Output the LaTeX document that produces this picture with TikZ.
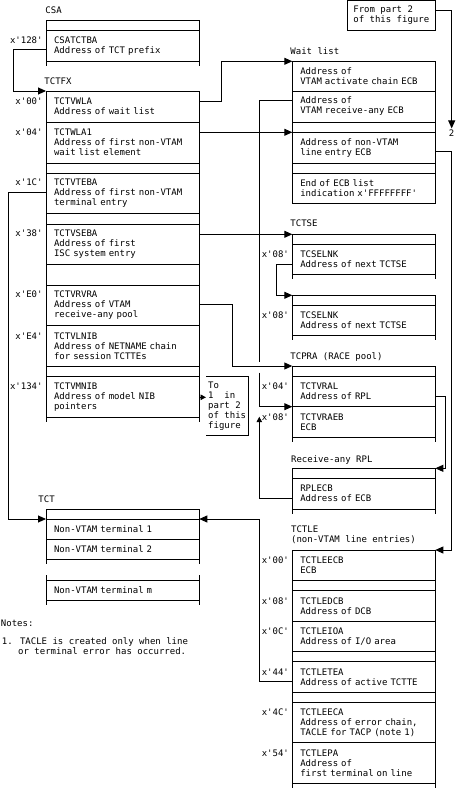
\documentclass[tikz,border=0pt]{standalone}
\usepackage{fontspec}
\newfontfamily\dg{DejaVu Sans Mono}
\usetikzlibrary{arrows.meta}

\begin{document}
\begin{tikzpicture}[x=1pt,y=-1pt,line width=0.9pt,
    every node/.style={font=\dg\fontsize{9}{10}\selectfont},
    cellL/.style={draw,anchor=north west,outer sep=0pt,inner xsep=8pt,inner ysep=0pt,text width=137.3pt,align=left},
    cellR/.style={cellL,text width=127pt},
    off/.style={anchor=base east,inner sep=0pt},
    lbl/.style={anchor=base west,inner sep=0pt},
    arr/.style={-{Triangle[length=8pt,width=7pt]}},
    smallarr/.style={-{Triangle[length=5.5pt,width=5.5pt]}}]
    \useasboundingbox (0,0) rectangle (456,789);

    % CSA
    \node[lbl] (csalbl) at (45,13.5) {CSA};
    \node[cellL,minimum height=10pt] (csa0) at (46,20.7) {};
    \node[cellL,minimum height=30.6pt] (csa1) at (46,30.7) {CSATCTBA\\Address of TCT prefix};
    \node[off] (ocsa1) at ([xshift=-3pt]csa1.base west) {x'128'};

    % TCTFX
    \node[lbl] (fxlbl) at (44,84.5) {TCTFX};
    \node[cellL,minimum height=31pt] (fx0) at (46,91) {TCTVWLA\\Address of wait list};
    \node[cellL,minimum height=41.3pt] (fx1) at (46,122) {TCTWLA1\\Address of first non-VTAM\\wait list element};
    \node[cellL,minimum height=10pt] (fx2) at (46,163.3) {};
    \node[cellL,minimum height=40pt] (fx3) at (46,173.3) {TCTVTEBA\\Address of first non-VTAM\\terminal entry};
    \node[cellL,minimum height=10.7pt] (fx4) at (46,213.3) {};
    \node[cellL,minimum height=40.3pt] (fx5) at (46,224) {TCTVSEBA\\Address of first\\ISC system entry};
    \node[cellL,minimum height=21pt] (fx6) at (46,264.3) {};
    \node[cellL,minimum height=40.4pt] (fx7) at (46,285.3) {TCTVRVRA\\Address of VTAM\\receive-any pool};
    \node[cellL,minimum height=40.3pt] (fx8) at (46,325.7) {TCTVLNIB\\Address of NETNAME chain\\for session TCTTEs};
    \node[cellL,minimum height=10.7pt] (fx9) at (46,366) {};
    \node[cellL,minimum height=40.6pt] (fx10) at (46,376.7) {TCTVMNIB\\Address of model NIB\\pointers};
    \foreach \n/\t in {fx0/00,fx1/04,fx3/1C,fx5/38,fx7/E0,fx8/E4,fx10/134}
        \node[off] (o\n) at ([xshift=-3pt]\n.base west) {x'\t'};

    \node[anchor=north west,outer sep=0pt,inner sep=0pt,minimum width=42.3pt,minimum height=59pt,align=left] (topart) at (206,376.7) {To\\1~~in\\part 2\\of this\\figure};
    \draw (topart.north west) -- (topart.north east) -- (topart.south east) -- (topart.south west);

    % Wait list
    \node[lbl] (wllbl) at (290,54.5) {Wait list};
    \node[cellR,minimum height=29.7pt] (wl0) at (292.3,61.3) {Address of\\VTAM activate chain ECB};
    \node[cellR,minimum height=31pt] (wl1) at (292.3,91) {Address of\\VTAM receive-any ECB};
    \node[cellR,minimum height=10.3pt] (wl2) at (292.3,122) {};
    \node[cellR,minimum height=31pt] (wl3) at (292.3,132.3) {Address of non-VTAM\\line entry ECB};
    \node[cellR,minimum height=10pt] (wl4) at (292.3,163.3) {};
    \node[cellR,minimum height=29.7pt] (wl5) at (292.3,173.3) {End of ECB list\\indication x'FFFFFFFF'};

    \node[draw,anchor=north west,outer sep=0pt,inner sep=0pt,minimum width=88pt,minimum height=29.8pt,align=left] (frompart) at (347.3,0.5) {From part 2\\of this figure};
    \node[inner sep=0.5pt] (two) at (451.7,132.7) {2};

    % TCTSE
    \node[lbl] (selbl) at (290,226.8) {TCTSE};
    \node[cellR,minimum height=10pt] (se0) at (292.3,234.3) {};
    \node[cellR,minimum height=30pt] (se1) at (292.3,244.3) {TCSELNK\\Address of next TCTSE};
    \node[cellR,minimum height=10pt] (sf0) at (292.3,295.3) {};
    \node[cellR,minimum height=30pt] (sf1) at (292.3,305.3) {TCSELNK\\Address of next TCTSE};

    % TCPRA
    \node[lbl] (ralbl) at (290,359.2) {TCPRA (RACE pool)};
    \node[cellR,minimum height=10.7pt] (ra0) at (292.3,366) {};
    \node[cellR,minimum height=30pt] (ra1) at (292.3,376.7) {TCTVRAL\\Address of RPL};
    \node[cellR,minimum height=30.6pt] (ra2) at (292.3,406.7) {TCTVRAEB\\ECB};

    % Receive-any RPL
    \node[lbl] (rplbl) at (290.7,462.2) {Receive-any RPL};
    \node[cellR,minimum height=10pt] (rp0) at (292.3,468.3) {};
    \node[cellR,minimum height=30.7pt] (rp1) at (292.3,478.3) {RPLECB\\Address of ECB};

    % TCT
    \node[lbl] (tclbl) at (38,502.5) {TCT};
    \node[cellL,minimum height=9.7pt] (tc0) at (46,509.3) {};
    \node[cellL,minimum height=20.3pt] (tc1) at (46,519) {Non-VTAM terminal 1};
    \node[cellL,minimum height=20pt] (tc2) at (46,539.3) {Non-VTAM terminal 2};
    \node[cellL,minimum height=20.7pt] (tc3) at (46,580) {Non-VTAM terminal m};

    % TCTLE
    \node[lbl] (lelbl) at (290.7,532.5) {TCTLE};
    \node[lbl] (lelbl2) at (290.7,542.5) {(non-VTAM line entries)};
    \node[cellR,minimum height=30.7pt] (le0) at (292.3,550) {TCTLEECB\\ECB};
    \node[cellR,minimum height=10pt] (le1) at (292.3,580.7) {};
    \node[cellR,minimum height=30.3pt] (le2) at (292.3,590.7) {TCTLEDCB\\Address of DCB};
    \node[cellR,minimum height=30.7pt] (le3) at (292.3,621) {TCTLEIOA\\Address of I/O area};
    \node[cellR,minimum height=10pt] (le4) at (292.3,651.7) {};
    \node[cellR,minimum height=30.6pt] (le5) at (292.3,661.7) {TCTLETEA\\Address of active TCTTE};
    \node[cellR,minimum height=10pt] (le6) at (292.3,692.3) {};
    \node[cellR,minimum height=40.4pt] (le7) at (292.3,702.3) {TCTLEECA\\Address of error chain,\\TACLE for TACP (note 1)};
    \node[cellR,minimum height=40.6pt] (le8) at (292.3,742.7) {TCTLEPA\\Address of\\first terminal on line};

    \foreach \n/\t in {se1/08,sf1/08,ra1/04,ra2/08,le0/00,le2/08,le3/0C,le5/44,le7/4C,le8/54}
        \node[off] (o\n) at ([xshift=-3pt]\n.base west) {x'\t'};

    % open bottoms
    \foreach \n in {csa1,fx10,se1,sf1,ra2,rp1,tc2,tc3,le8}
        \draw (\n.south west) -- ++(0,4.5) (\n.south east) -- ++(0,4.5);
    \draw (tc3.north west) -- ++(0,-5) (tc3.north east) -- ++(0,-5);

    % pointers
    \draw[arr] ([yshift=-6.5pt]csa1.base west) -- ++(-33,0) |- (fx0.north west);
    \draw[arr] ([yshift=3.5pt]fx0.base east) -- ++(22,0) |- (wl0.north west);
    \draw[arr] (fx1.east |- wl3.north west) -- (wl3.north west);
    \draw[arr] ([yshift=-6.5pt]fx3.base west) -- ++(-38,0) |- (tc1.north west);
    \draw[arr] (fx5.east |- se0.north west) -- (se0.north west);
    \draw[arr] ([yshift=-6.5pt]fx7.base east) -- ++(33,0) |- (ra0.north west);
    \draw[smallarr] ([yshift=8.9pt]topart.west -| fx10.east) -- ([yshift=8.9pt]topart.west);

    \coordinate (gapa) at (259.3,361.7);
    \coordinate (gapb) at (259.3,372.7);
    \draw ([yshift=3.5pt]wl1.base west) -| (gapa);
    \draw[arr] (gapb) |- (ra2.north west);

    \draw[arr] ([yshift=-6.5pt]se1.base west) -- ++(-15.6,0) |- (sf0.north west);
    \draw[arr] ([yshift=-6.5pt]ra1.base east) -- ++(10.4,0) |- (rp0.north east);
    \draw[smallarr] ([yshift=-6.5pt]rp1.base west) -| ([shift={(-33,10)}]ra2.north west);
    \draw[arr] ([yshift=-6.5pt]le5.base west) -- ++(-33,0) |- (tc1.north east);
    \draw[arr] ([yshift=-6.5pt]wl3.base east) -- ++(16.4,0) |- (le0.north east);
    \draw[arr] ([yshift=5.4pt]frompart.east) -| (two.north);

    % notes
    \node[lbl] (notes) at (0.5,626.8) {Notes:};
    \node[lbl] (note1) at (1.5,644.2) {1. TACLE is created only when line};
    \node[lbl] (note1b) at (1.5,654.2) {\phantom{1.}~or terminal error has occurred.};
\end{tikzpicture}
\end{document}
